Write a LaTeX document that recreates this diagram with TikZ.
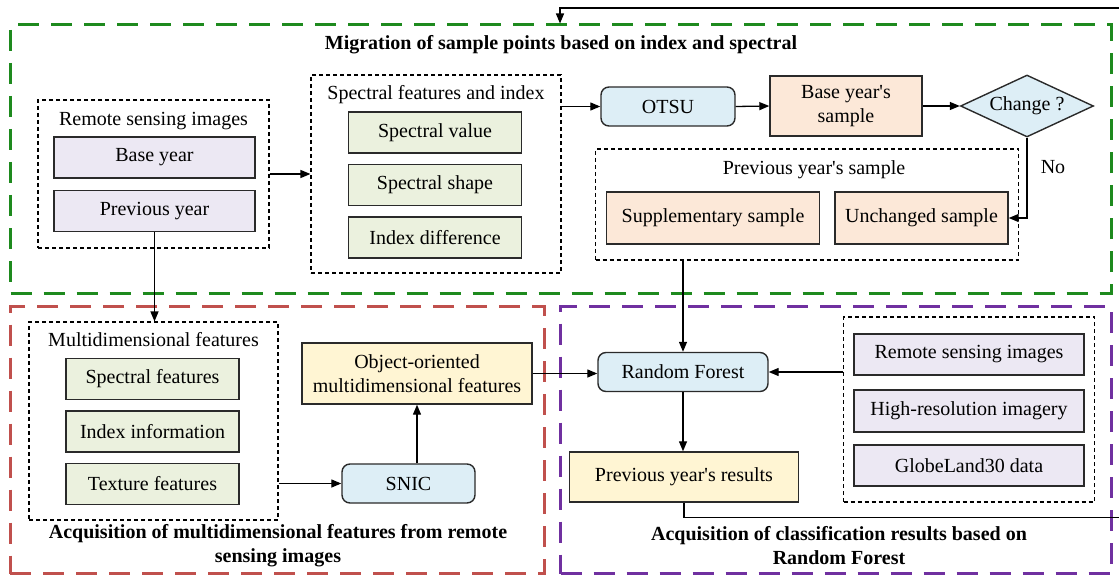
\documentclass[tikz,border=0pt]{standalone}
\usepackage{fontspec}
\setmainfont{Liberation Serif}[Ligatures=TeXOff]
\usetikzlibrary{shapes.geometric,arrows.meta}
\definecolor{lav}{HTML}{ECE8F3}
\definecolor{lgreen}{HTML}{EBF1DE}
\definecolor{peach}{HTML}{FCE8D8}
\definecolor{lblue}{HTML}{DDEEF6}
\definecolor{lyellow}{HTML}{FFF5D3}
\definecolor{ggreen}{HTML}{1E8A1E}
\definecolor{rred}{HTML}{C0504D}
\definecolor{ppurple}{HTML}{7030A0}
\definecolor{bord}{HTML}{2A2A2A}
\begin{document}
\begin{tikzpicture}[x=1pt,y=-1pt,
  font=\fontsize{20}{24}\selectfont,
  box/.style={draw=bord, line width=1.4pt, inner sep=0pt, align=center},
  rbox/.style={box, rounded corners=8pt, fill=lblue},
  dbox/.style={draw=black, line width=1.1pt, dash pattern=on 4pt off 3pt, inner sep=0pt},
  bigbox/.style={line width=3pt, dash pattern=on 21pt off 12pt, inner sep=0pt},
  ttl/.style={font=\fontsize{20}{24}\selectfont\bfseries, align=center, inner sep=0pt},
  lbl/.style={inner sep=0pt},
  conn/.style={draw=black, line width=1.3pt, -{Triangle[length=10pt,width=8pt]}},
  plain/.style={draw=black, line width=1.3pt}
]
\useasboundingbox (0,0) rectangle (1119,575);

% big regions
\node[bigbox, draw=ggreen, minimum width=1101, minimum height=268] (green) at (561,159) {};
\node[bigbox, draw=rred, minimum width=534, minimum height=267] (red) at (277,440) {};
\node[bigbox, draw=ppurple, minimum width=551, minimum height=267] (purple) at (836,440) {};

\node[ttl] (gtitle) at (561,45) {Migration of sample points based on index and spectral};
\node[ttl] (rtitle) at (278,546) {Acquisition of multidimensional features from remote\\sensing images};
\node[ttl] (ptitle) at (839,546) {Acquisition of classification results based on\\Random Forest};

% remote sensing images group
\node[dbox, minimum width=231, minimum height=148] (rs) at (153.5,174) {};
\node[lbl] (rst) at (153.5,121) {Remote sensing images};
\node[box, fill=lav, minimum width=201, minimum height=41] (by) at (154.5,157.5) {Base year};
\node[box, fill=lav, minimum width=201, minimum height=41] (py) at (154.5,211) {Previous year};

% spectral features group
\node[dbox, minimum width=250, minimum height=198] (sp) at (436,174) {};
\node[lbl] (spt) at (436,95) {Spectral features and index};
\node[box, fill=lgreen, minimum width=173, minimum height=41] (sv) at (435,132.5) {Spectral value};
\node[box, fill=lgreen, minimum width=173, minimum height=41] (ss) at (435,185) {Spectral shape};
\node[box, fill=lgreen, minimum width=173, minimum height=41] (id) at (435,237.5) {Index difference};

% top right chain
\node[rbox, minimum width=134, minimum height=39] (otsu) at (668,106.5) {OTSU};
\node[box, fill=peach, minimum width=152, minimum height=60] (bys) at (846,106) {Base year's\\sample};
\node[diamond, draw=bord, line width=1.4pt, fill=lblue, inner sep=0pt, aspect=2.15, minimum width=133, minimum height=62] (chg) at (1027,106) {Change ?};

% previous year's sample group
\node[dbox, minimum width=423, minimum height=111] (pys) at (807,204.5) {};
\node[lbl] (pyst) at (814,170) {Previous year's sample};
\node[box, fill=peach, minimum width=213, minimum height=52] (sup) at (713,218) {Supplementary sample};
\node[box, fill=peach, minimum width=173, minimum height=52] (unc) at (921.5,218) {Unchanged sample};
\node[lbl] (no) at (1053,167) {No};

% multidimensional features group
\node[dbox, minimum width=249, minimum height=198] (md) at (153.5,421) {};
\node[lbl] (mdt) at (153.5,340) {Multidimensional features};
\node[box, fill=lgreen, minimum width=173, minimum height=41] (sf) at (152.5,379) {Spectral features};
\node[box, fill=lgreen, minimum width=173, minimum height=41] (ii) at (152.5,431.5) {Index information};
\node[box, fill=lgreen, minimum width=173, minimum height=41] (tf) at (152.5,484) {Texture features};

\node[rbox, minimum width=133, minimum height=39] (snic) at (408.5,483.5) {SNIC};
\node[box, fill=lyellow, minimum width=230, minimum height=61] (obj) at (417,373.5) {Object-oriented\\multidimensional features};

% random forest part
\node[rbox, minimum width=170, minimum height=39] (rf) at (683,372) {Random Forest};
\node[box, fill=lyellow, minimum width=229, minimum height=50] (res) at (684,477) {Previous year's results};
\node[dbox, minimum width=251, minimum height=185] (rd) at (969,409.5) {};
\node[box, fill=lav, minimum width=230, minimum height=41] (rsi) at (969,354.5) {Remote sensing images};
\node[box, fill=lav, minimum width=230, minimum height=42] (hri) at (969,411) {High-resolution imagery};
\node[box, fill=lav, minimum width=230, minimum height=41] (gl) at (969,465.5) {GlobeLand30 data};

\coordinate (fb1) at (1121,517.5);
\coordinate (fb2) at (1121,8);
\coordinate (fb3) at (560,8);

% connectors
\draw[conn] (rs.east) -- (sp.west);
\draw[conn] (sp.east |- otsu.west) -- (otsu.west);
\draw[conn] (otsu.east) -- (bys.west);
\draw[conn] (bys.east) -- (chg.west);
\draw[conn] (chg.south) |- (unc.east);
\draw[conn] (py.south) -- (py.south |- md.north);
\draw[conn] (rf.north |- pys.south) -- (rf.north);
\draw[conn] (md.east |- snic.west) -- (snic.west);
\draw[conn] (obj.south |- snic.north) -- (obj.south);
\draw[conn] (obj.east) -- (rf.west |- obj.east);
\draw[conn] (rd.west |- rf.east) -- (rf.east);
\draw[conn] (rf.south) -- (rf.south |- res.north);
\draw[conn] (res.south) |- (fb1) -- (fb2) -- (fb3) -- (fb3 |- green.north);
\end{tikzpicture}
\end{document}
